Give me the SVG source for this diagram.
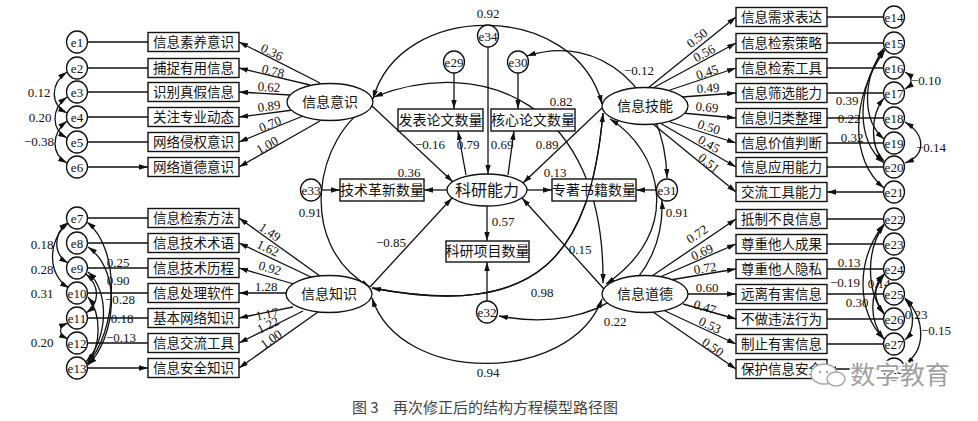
<svg xmlns="http://www.w3.org/2000/svg" width="978" height="421" viewBox="0 0 978 421">
<style>
.l{fill:none;stroke:#111;stroke-width:1.3}
.a{marker-end:url(#ar)}
.b{marker-start:url(#ar);marker-end:url(#ar)}
.bx{fill:#fff;stroke:#111;stroke-width:1.4}
.el{fill:#fff;stroke:#111;stroke-width:1.3}
.t{font-family:"Liberation Serif","Noto Sans CJK SC",serif;font-size:13.5px;fill:#111;text-anchor:middle;dominant-baseline:central}
.e{font-family:"Liberation Serif",serif;font-size:13px;fill:#111;text-anchor:middle;dominant-baseline:central}
.c{font-family:"Liberation Serif","Noto Sans CJK SC",serif;font-size:14px;fill:#111;text-anchor:middle;dominant-baseline:central}
.k{font-size:16px}
.n{font-family:"Liberation Serif",serif;font-size:13px;fill:#111;text-anchor:middle;dominant-baseline:central}
</style>
<defs>
<marker id="ar" viewBox="0 0 10 6" refX="10" refY="3" markerWidth="9" markerHeight="5.4" markerUnits="userSpaceOnUse" orient="auto-start-reverse"><path d="M0,0L10,3L0,6z" fill="#111"/></marker>
</defs>
<rect width="978" height="421" fill="#fff"/>

<g id="connectors">
<path class="l a" d="M88,42H148M88,68H148M88,92H148M88,117H148M88,142H148M88,167H148"/>
<path class="l a" d="M88,218H148M88,243H148M88,268H148M88,293H148M88,318H148M88,343H148M88,368H148"/>
<path class="l a" d="M883,17H827M883,43H827M883,68H827M883,93H827M883,118H827M883,143H827M883,167H827M883,192H827"/>
<path class="l a" d="M883,219H827M883,244H827M883,269H827M883,294H827M883,319H827M883,344H827M883,369H827"/>
<path class="l a" d="M320,83L239,42"/><path class="l a" d="M310,85L239,68"/><path class="l a" d="M290,95L239,92"/>
<path class="l a" d="M293,110L239,117"/><path class="l a" d="M303,116L239,142"/><path class="l a" d="M320,121L239,167"/>
<path class="l a" d="M320,276L239,218"/><path class="l a" d="M313,278L239,243"/><path class="l a" d="M297,285L239,268"/>
<path class="l a" d="M287,293L239,293"/><path class="l a" d="M293,307L239,318"/><path class="l a" d="M303,311L239,343"/><path class="l a" d="M318,312L239,368"/>
<path class="l a" d="M648,88L736,17"/><path class="l a" d="M653,88L736,43"/><path class="l a" d="M670,90L736,68"/><path class="l a" d="M682,97L736,93"/>
<path class="l a" d="M682,113L736,118"/><path class="l a" d="M670,122L736,143"/><path class="l a" d="M660,123L736,167"/><path class="l a" d="M653,124L736,192"/>
<path class="l a" d="M652,276L736,219"/><path class="l a" d="M660,277L736,244"/><path class="l a" d="M670,280L736,269"/><path class="l a" d="M687,294L736,294"/>
<path class="l a" d="M683,304L736,319"/><path class="l a" d="M663,310L736,344"/><path class="l a" d="M653,312L736,369"/>
<path class="l b" d="M67,72C50,84 50,104 67,113"/>
<path class="l b" d="M67,97C51,109 51,129 67,138"/>
<path class="l b" d="M67,121C51,134 51,154 67,163"/>
<path class="l b" d="M68,223C53,233 53,254 68,263"/>
<path class="l b" d="M69,222C47,240 47,275 69,288"/>
<path class="l b" d="M68,323C58,327 58,334 68,339"/>
<path class="l b" d="M87,222C122,250 117,332 87,364"/>
<path class="l b" d="M88,247C124,272 114,340 88,365"/>
<path class="l b" d="M88,272C110,292 108,338 86,362"/>
<path class="l b" d="M86,274C100,286 100,303 86,313"/>
<path class="l b" d="M88,297C102,315 101,345 88,363"/>
<path class="l b" d="M905,72C913,77 913,84 905,89"/>
<path class="l b" d="M905,122C926,135 926,155 905,163"/>
<path class="l b" d="M884,48C862,80 862,120 884,139"/>
<path class="l b" d="M884,49C856,90 856,140 884,163"/>
<path class="l b" d="M885,50C850,100 850,160 884,188"/>
<path class="l b" d="M884,98C870,115 870,148 884,161"/>
<path class="l b" d="M884,224C856,260 856,310 884,339"/>
<path class="l b" d="M884,225C866,250 866,290 884,314"/>
<path class="l b" d="M884,274C873,285 873,300 884,313"/>
<path class="l b" d="M884,275C869,295 869,320 884,339"/>
<path class="l b" d="M905,299C915,310 915,330 905,340"/>
<path class="l b" d="M905,298C926,320 926,350 905,364"/>
<path class="l a" d="M454,73V109"/>
<path class="l a" d="M518,73V109"/>
<path class="l a" d="M488,47V174"/>
<path class="l a" d="M466,175L458,131"/>
<path class="l a" d="M508,175L514,131"/>
<path class="l a" d="M322,190H340"/>
<path class="l a" d="M447,190H424"/>
<path class="l a" d="M527,190H552"/>
<path class="l a" d="M656,190H636"/>
<path class="l a" d="M487,206V241"/>
<path class="l a" d="M487,301V262"/>
<path class="l a" d="M371,105L453,182"/>
<path class="l a" d="M370,287L452,198"/>
<path class="l a" d="M602,108L523,183"/>
<path class="l a" d="M604,289L522,198"/>
<path class="l b" d="M373,99C400,0 575,0 602,104"/>
<path class="l b" d="M372,104C315,135 295,245 370,287"/>
<path class="l b" d="M374,97C480,55 605,100 603,283"/>
<path class="l b" d="M603,113C590,255 540,320 372,288"/>
<path class="l b" d="M372,298C400,385 570,385 602,299"/>
<path class="l b" d="M610,119C660,150 685,230 606,284"/>
<path class="l b" d="M527,56C600,32 665,90 667,178"/>
<path class="l b" d="M662,200C665,280 600,335 499,316"/>
</g>

<g id="loadings-labels">
<text class="n" x="272" y="52" transform="rotate(26 272 52)">0.36</text>
<text class="n" x="273" y="71" transform="rotate(13.5 273 71)">0.78</text>
<text class="n" x="269" y="87" transform="rotate(3.4 269 87)">0.62</text>
<text class="n" x="269" y="106" transform="rotate(-7.4 269 106)">0.89</text>
<text class="n" x="270" y="124" transform="rotate(-23 270 124)">0.70</text>
<text class="n" x="267" y="145" transform="rotate(-29 267 145)">1.00</text>
<text class="n" x="270" y="232" transform="rotate(34 270 232)">1.49</text>
<text class="n" x="268" y="248" transform="rotate(25 268 248)">1.62</text>
<text class="n" x="270" y="268" transform="rotate(16 270 268)">0.92</text>
<text class="n" x="266" y="286">1.28</text>
<text class="n" x="267" y="314" transform="rotate(-11.5 267 314)">1.17</text>
<text class="n" x="268" y="325" transform="rotate(-26 268 325)">1.22</text>
<text class="n" x="271" y="339" transform="rotate(-35 271 339)">1.00</text>
<text class="n" x="697" y="38" transform="rotate(-38.5 697 38)">0.50</text>
<text class="n" x="704" y="53" transform="rotate(-28.5 704 53)">0.56</text>
<text class="n" x="707" y="72" transform="rotate(-18.4 707 72)">0.45</text>
<text class="n" x="708" y="88" transform="rotate(-4.2 708 88)">0.49</text>
<text class="n" x="707" y="107" transform="rotate(5.3 707 107)">0.69</text>
<text class="n" x="709" y="127" transform="rotate(17.7 709 127)">0.50</text>
<text class="n" x="709" y="144" transform="rotate(30 709 144)">0.45</text>
<text class="n" x="709" y="163" transform="rotate(39 709 163)">0.51</text>
<text class="n" x="697" y="234" transform="rotate(-33.7 697 234)">0.72</text>
<text class="n" x="702" y="252" transform="rotate(-24 702 252)">0.69</text>
<text class="n" x="705" y="268" transform="rotate(-9.5 705 268)">0.72</text>
<text class="n" x="707" y="287">0.60</text>
<text class="n" x="705" y="307" transform="rotate(16.8 705 307)">0.47</text>
<text class="n" x="710" y="325" transform="rotate(25 710 325)">0.53</text>
<text class="n" x="713" y="347" transform="rotate(34.5 713 347)">0.50</text>
</g>

<g id="cov-labels">
<text class="n" x="39" y="92">0.12</text>
<text class="n" x="40" y="117">0.20</text>
<text class="n" x="39" y="141">−0.38</text>
<text class="n" x="42" y="244">0.18</text>
<text class="n" x="42" y="269">0.28</text>
<text class="n" x="42" y="293">0.31</text>
<text class="n" x="42" y="342">0.20</text>
<text class="n" x="118" y="262">0.25</text>
<text class="n" x="118" y="280">0.90</text>
<text class="n" x="120" y="299">−0.28</text>
<text class="n" x="122" y="318">0.18</text>
<text class="n" x="121" y="337">−0.13</text>
<text class="n" x="926" y="80">−0.10</text>
<text class="n" x="931" y="147">−0.14</text>
<text class="n" x="847" y="100">0.39</text>
<text class="n" x="849" y="118">0.22</text>
<text class="n" x="852" y="137">0.32</text>
<text class="n" x="849" y="262">0.13</text>
<text class="n" x="845" y="282">−0.19</text>
<text class="n" x="879" y="283">0.14</text>
<text class="n" x="857" y="302">0.30</text>
<text class="n" x="916" y="314">0.23</text>
<text class="n" x="936" y="330">−0.15</text>
<text class="n" x="488" y="13">0.92</text>
<text class="n" x="639" y="70">−0.12</text>
<text class="n" x="561" y="101">0.82</text>
<text class="n" x="430" y="144">−0.16</text>
<text class="n" x="468" y="144">0.79</text>
<text class="n" x="502" y="144">0.69</text>
<text class="n" x="547" y="144">0.89</text>
<text class="n" x="409" y="172">0.36</text>
<text class="n" x="555" y="172">0.13</text>
<text class="n" x="310" y="212">0.91</text>
<text class="n" x="677" y="212">0.91</text>
<text class="n" x="503" y="221">0.57</text>
<text class="n" x="391" y="242">−0.85</text>
<text class="n" x="580" y="249">0.15</text>
<text class="n" x="542" y="292">0.98</text>
<text class="n" x="615" y="321">0.22</text>
<text class="n" x="488" y="372">0.94</text>
</g>

<g id="e1"><ellipse class="el" cx="77" cy="42" rx="10.5" ry="11"/><text class="e" x="77" y="42">e1</text></g>
<g id="e2"><ellipse class="el" cx="77" cy="68" rx="10.5" ry="11"/><text class="e" x="77" y="68">e2</text></g>
<g id="e3"><ellipse class="el" cx="77" cy="92" rx="10.5" ry="11"/><text class="e" x="77" y="92">e3</text></g>
<g id="e4"><ellipse class="el" cx="77" cy="117" rx="10.5" ry="11"/><text class="e" x="77" y="117">e4</text></g>
<g id="e5"><ellipse class="el" cx="77" cy="142" rx="10.5" ry="11"/><text class="e" x="77" y="142">e5</text></g>
<g id="e6"><ellipse class="el" cx="77" cy="167" rx="10.5" ry="11"/><text class="e" x="77" y="167">e6</text></g>
<g id="x1"><rect class="bx" x="148" y="32.5" width="91" height="19"/><text class="t" x="193.5" y="42">信息素养意识</text></g>
<g id="x2"><rect class="bx" x="148" y="58.5" width="91" height="19"/><text class="t" x="193.5" y="68">捕捉有用信息</text></g>
<g id="x3"><rect class="bx" x="148" y="82.5" width="91" height="19"/><text class="t" x="193.5" y="92">识别真假信息</text></g>
<g id="x4"><rect class="bx" x="148" y="107.5" width="91" height="19"/><text class="t" x="193.5" y="117">关注专业动态</text></g>
<g id="x5"><rect class="bx" x="148" y="132.5" width="91" height="19"/><text class="t" x="193.5" y="142">网络侵权意识</text></g>
<g id="x6"><rect class="bx" x="148" y="157.5" width="91" height="19"/><text class="t" x="193.5" y="167">网络道德意识</text></g>

<g id="e7"><ellipse class="el" cx="77" cy="218" rx="10.5" ry="11"/><text class="e" x="77" y="218">e7</text></g>
<g id="e8"><ellipse class="el" cx="77" cy="243" rx="10.5" ry="11"/><text class="e" x="77" y="243">e8</text></g>
<g id="e9"><ellipse class="el" cx="77" cy="268" rx="10.5" ry="11"/><text class="e" x="77" y="268">e9</text></g>
<g id="e10"><ellipse class="el" cx="77" cy="293" rx="10.5" ry="11"/><text class="e" x="77" y="293">e10</text></g>
<g id="e11"><ellipse class="el" cx="77" cy="318" rx="10.5" ry="11"/><text class="e" x="77" y="318">e11</text></g>
<g id="e12"><ellipse class="el" cx="77" cy="343" rx="10.5" ry="11"/><text class="e" x="77" y="343">e12</text></g>
<g id="e13"><ellipse class="el" cx="77" cy="368" rx="10.5" ry="11"/><text class="e" x="77" y="368">e13</text></g>
<g id="x7"><rect class="bx" x="148" y="208.5" width="91" height="19"/><text class="t" x="193.5" y="218">信息检索方法</text></g>
<g id="x8"><rect class="bx" x="148" y="233.5" width="91" height="19"/><text class="t" x="193.5" y="243">信息技术术语</text></g>
<g id="x9"><rect class="bx" x="148" y="258.5" width="91" height="19"/><text class="t" x="193.5" y="268">信息技术历程</text></g>
<g id="x10"><rect class="bx" x="148" y="283.5" width="91" height="19"/><text class="t" x="193.5" y="293">信息处理软件</text></g>
<g id="x11"><rect class="bx" x="148" y="308.5" width="91" height="19"/><text class="t" x="193.5" y="318">基本网络知识</text></g>
<g id="x12"><rect class="bx" x="148" y="333.5" width="91" height="19"/><text class="t" x="193.5" y="343">信息交流工具</text></g>
<g id="x13"><rect class="bx" x="148" y="358.5" width="91" height="19"/><text class="t" x="193.5" y="368">信息安全知识</text></g>

<g id="e14"><ellipse class="el" cx="894" cy="17" rx="10.5" ry="11"/><text class="e" x="894" y="17">e14</text></g>
<g id="e15"><ellipse class="el" cx="894" cy="43" rx="10.5" ry="11"/><text class="e" x="894" y="43">e15</text></g>
<g id="e16"><ellipse class="el" cx="894" cy="68" rx="10.5" ry="11"/><text class="e" x="894" y="68">e16</text></g>
<g id="e17"><ellipse class="el" cx="894" cy="93" rx="10.5" ry="11"/><text class="e" x="894" y="93">e17</text></g>
<g id="e18"><ellipse class="el" cx="894" cy="118" rx="10.5" ry="11"/><text class="e" x="894" y="118">e18</text></g>
<g id="e19"><ellipse class="el" cx="894" cy="143" rx="10.5" ry="11"/><text class="e" x="894" y="143">e19</text></g>
<g id="e20"><ellipse class="el" cx="894" cy="167" rx="10.5" ry="11"/><text class="e" x="894" y="167">e20</text></g>
<g id="e21"><ellipse class="el" cx="894" cy="192" rx="10.5" ry="11"/><text class="e" x="894" y="192">e21</text></g>
<g id="x14"><rect class="bx" x="736" y="7.5" width="91" height="19"/><text class="t" x="781.5" y="17">信息需求表达</text></g>
<g id="x15"><rect class="bx" x="736" y="33.5" width="91" height="19"/><text class="t" x="781.5" y="43">信息检索策略</text></g>
<g id="x16"><rect class="bx" x="736" y="58.5" width="91" height="19"/><text class="t" x="781.5" y="68">信息检索工具</text></g>
<g id="x17"><rect class="bx" x="736" y="83.5" width="91" height="19"/><text class="t" x="781.5" y="93">信息筛选能力</text></g>
<g id="x18"><rect class="bx" x="736" y="108.5" width="91" height="19"/><text class="t" x="781.5" y="118">信息归类整理</text></g>
<g id="x19"><rect class="bx" x="736" y="133.5" width="91" height="19"/><text class="t" x="781.5" y="143">信息价值判断</text></g>
<g id="x20"><rect class="bx" x="736" y="157.5" width="91" height="19"/><text class="t" x="781.5" y="167">信息应用能力</text></g>
<g id="x21"><rect class="bx" x="736" y="182.5" width="91" height="19"/><text class="t" x="781.5" y="192">交流工具能力</text></g>

<g id="e22"><ellipse class="el" cx="894" cy="219" rx="10.5" ry="11"/><text class="e" x="894" y="219">e22</text></g>
<g id="e23"><ellipse class="el" cx="894" cy="244" rx="10.5" ry="11"/><text class="e" x="894" y="244">e23</text></g>
<g id="e24"><ellipse class="el" cx="894" cy="269" rx="10.5" ry="11"/><text class="e" x="894" y="269">e24</text></g>
<g id="e25"><ellipse class="el" cx="894" cy="294" rx="10.5" ry="11"/><text class="e" x="894" y="294">e25</text></g>
<g id="e26"><ellipse class="el" cx="894" cy="319" rx="10.5" ry="11"/><text class="e" x="894" y="319">e26</text></g>
<g id="e27"><ellipse class="el" cx="894" cy="344" rx="10.5" ry="11"/><text class="e" x="894" y="344">e27</text></g>
<g id="e28"><ellipse class="el" cx="894" cy="369" rx="10.5" ry="11"/><text class="e" x="894" y="369">e28</text></g>
<g id="x22"><rect class="bx" x="736" y="209.5" width="91" height="19"/><text class="t" x="781.5" y="219">抵制不良信息</text></g>
<g id="x23"><rect class="bx" x="736" y="234.5" width="91" height="19"/><text class="t" x="781.5" y="244">尊重他人成果</text></g>
<g id="x24"><rect class="bx" x="736" y="259.5" width="91" height="19"/><text class="t" x="781.5" y="269">尊重他人隐私</text></g>
<g id="x25"><rect class="bx" x="736" y="284.5" width="91" height="19"/><text class="t" x="781.5" y="294">远离有害信息</text></g>
<g id="x26"><rect class="bx" x="736" y="309.5" width="91" height="19"/><text class="t" x="781.5" y="319">不做违法行为</text></g>
<g id="x27"><rect class="bx" x="736" y="334.5" width="91" height="19"/><text class="t" x="781.5" y="344">制止有害信息</text></g>
<g id="x28"><rect class="bx" x="736" y="359.5" width="91" height="19"/><text class="t" x="781.5" y="369">保护信息安全</text></g>

<g id="F1"><ellipse class="el" cx="330" cy="102" rx="43" ry="18.5"/><text class="c" x="330" y="102">信息意识</text></g>
<g id="F2"><ellipse class="el" cx="329" cy="294" rx="43" ry="18.5"/><text class="c" x="329" y="294">信息知识</text></g>
<g id="F3"><ellipse class="el" cx="645" cy="106" rx="43" ry="18.5"/><text class="c" x="645" y="106">信息技能</text></g>
<g id="F4"><ellipse class="el" cx="645" cy="294" rx="43" ry="18.5"/><text class="c" x="645" y="294">信息道德</text></g>
<g id="K"><ellipse class="el" cx="487" cy="190" rx="40" ry="16"/><text class="c k" x="487" y="190">科研能力</text></g>

<g id="y1"><rect class="bx" x="398" y="109" width="85" height="22"/><text class="c" x="440.5" y="120">发表论文数量</text></g>
<g id="y2"><rect class="bx" x="491" y="109" width="84" height="22"/><text class="c" x="533" y="120">核心论文数量</text></g>
<g id="y3"><rect class="bx" x="340" y="179" width="84" height="22"/><text class="c" x="382" y="190">技术革新数量</text></g>
<g id="y4"><rect class="bx" x="552" y="179" width="84" height="22"/><text class="c" x="594" y="190">专著书籍数量</text></g>
<g id="y5"><rect class="bx" x="446" y="241" width="83" height="21"/><text class="c" x="487.5" y="251.5">科研项目数量</text></g>
<path class="l" d="M603,113C590,255 540,320 372,288"/>

<g id="e29"><ellipse class="el" cx="454" cy="62" rx="10.5" ry="11"/><text class="e" x="454" y="62">e29</text></g>
<g id="e30"><ellipse class="el" cx="518" cy="62" rx="10.5" ry="11"/><text class="e" x="518" y="62">e30</text></g>
<g id="e31"><ellipse class="el" cx="667" cy="190" rx="10.5" ry="11"/><text class="e" x="667" y="190">e31</text></g>
<g id="e32"><ellipse class="el" cx="487" cy="312" rx="10.5" ry="11"/><text class="e" x="487" y="312">e32</text></g>
<g id="e33"><ellipse class="el" cx="311" cy="190" rx="10.5" ry="11"/><text class="e" x="311" y="190">e33</text></g>
<g id="e34"><ellipse class="el" cx="488" cy="36" rx="10.5" ry="11"/><text class="e" x="488" y="36">e34</text></g>

<g id="watermark">
<ellipse cx="824" cy="374" rx="13" ry="10" fill="#fff" stroke="#aaa" stroke-width="1.5"/>
<ellipse cx="836" cy="379" rx="9" ry="7" fill="#fff" stroke="#aaa" stroke-width="1.5"/>
<circle cx="820" cy="372" r="1.3" fill="#aaa"/><circle cx="827" cy="372" r="1.3" fill="#aaa"/>
<text x="850" y="384" font-family="Noto Sans CJK SC,sans-serif" font-size="25" fill="#a0a0a0" stroke="#fff" stroke-width="3" paint-order="stroke">数字教育</text>
</g>

<g id="caption">
<text x="352" y="413" font-family="Noto Sans CJK SC,sans-serif" font-size="15" fill="#444">图 3</text>
<text x="393" y="413" font-family="Noto Sans CJK SC,sans-serif" font-size="15" fill="#444">再次修正后的结构方程模型路径图</text>
</g>
</svg>
